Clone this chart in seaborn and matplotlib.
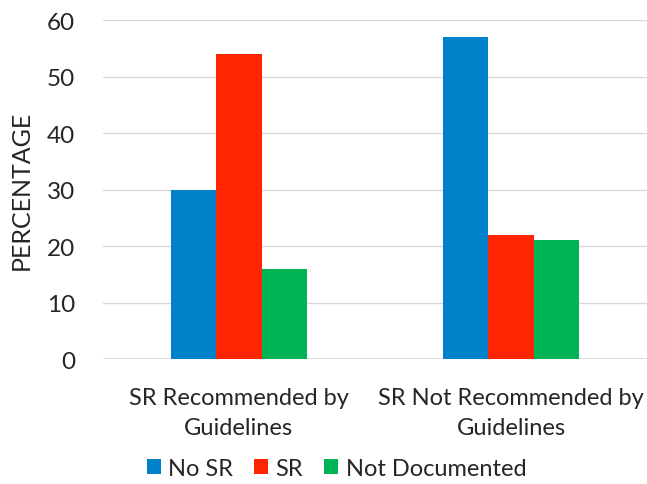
import matplotlib
matplotlib.use("Agg")
import matplotlib.pyplot as plt
import seaborn as sns
import pandas as pd
from matplotlib.patches import Patch

categories = ["SR Recommended by\nGuidelines", "SR Not Recommended by\nGuidelines"]
series = ["No SR", "SR", "Not Documented"]
no_sr = [30, 57]
sr = [54, 22]
not_documented = [16, 21]
colors = ["#0082CA", "#FF2500", "#00B355"]

rows = []
for name, vals in zip(series, [no_sr, sr, not_documented]):
    for cat, v in zip(categories, vals):
        rows.append({"Category": cat, "Series": name, "Value": v})
df = pd.DataFrame(rows)

sns.set_theme(style="white")
plt.rcParams["font.family"] = ["Lato", "DejaVu Sans"]

fig = plt.figure(figsize=(6.47, 4.85), dpi=100)
ax = fig.add_axes([0.159, 0.2577, 0.841, 0.699])

sns.barplot(data=df, x="Category", y="Value", hue="Series", order=categories,
            hue_order=series, palette=colors, width=0.5, gap=0,
            saturation=1, linewidth=0, ax=ax, legend=False)

ax.set_ylim(0, 60)
ax.set_xlim(-0.5, 1.5)
ax.set_yticks(range(0, 61, 10))
ax.yaxis.grid(True, color="#D9D9D9", linewidth=1)
ax.set_axisbelow(True)
for s in ax.spines.values():
    s.set_visible(False)
ax.axhline(0, color="#D9D9D9", linewidth=1.2, zorder=0)

ax.tick_params(axis="y", length=0, pad=20, labelsize=17.5, labelcolor="#262626")
ax.tick_params(axis="x", length=0, pad=20, labelsize=17, labelcolor="#262626")
for lbl in ax.get_xticklabels():
    lbl.set_linespacing(1.55)
ax.set_xlabel("")
ax.set_ylabel("PERCENTAGE", fontsize=18, color="#262626", labelpad=10)

handles = [Patch(facecolor=c, edgecolor="none") for c in colors]
fig.legend(handles, series, loc="center", bbox_to_anchor=(0.52, 0.032), ncol=3,
           frameon=False, fontsize=17, handlelength=0.6, handleheight=0.6,
           handletextpad=0.3, columnspacing=0.9, labelcolor="#262626")

fig.savefig("out.png", dpi=100)
